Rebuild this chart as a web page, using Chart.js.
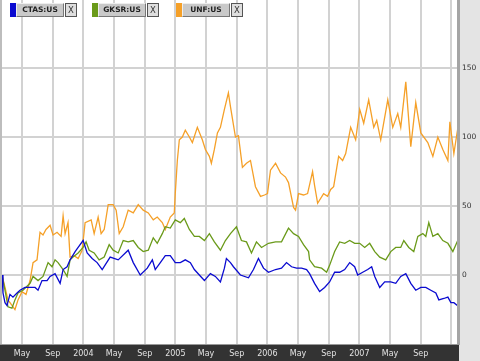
<!DOCTYPE html>
<html>
<head>
<meta charset="utf-8">
<script src="https://cdn.jsdelivr.net/npm/chart.js@4/dist/chart.umd.min.js"></script>
<style>
  html, body { margin: 0; padding: 0; background: #fff; }
  #wrap { position: relative; width: 480px; height: 361px; overflow: hidden; }
  #c { position: absolute; left: 0; top: 0; }
  .btn { position: absolute; top: 3px; height: 14px; }
  .sw { position: absolute; left: 0; top: 0; width: 6px; height: 14px; }
  .lb { position: absolute; left: 6px; top: 0; width: 46px; height: 12px; background: #c9c9c9;
        border-top: 1px solid #eeeeee; border-left: 1px solid #eeeeee;
        border-right: 1px solid #777; border-bottom: 1px solid #777;
        font: bold 7.5px "DejaVu Sans", sans-serif; color: #222; text-align: center; line-height: 12px; }
  .xb { position: absolute; left: 55px; top: 0; width: 10px; height: 12px; background: #dedede;
        border: 1px solid #555; font: 8.5px "DejaVu Sans", sans-serif; color: #333; text-align: center; line-height: 13px; }
</style>
</head>
<body>
<div id="wrap">
  <canvas id="c" width="480" height="361"></canvas>
</div>
<script>
// ---- data (months since Jan 2003, percent change) ----
const seriesNames = ["CTAS:US", "GKSR:US", "UNF:US"];
const seriesColors = ["#0a0ad0", "#6a9a1a", "#f5a028"];

const xTickMonths = [4, 8, 12, 16, 20, 24, 28, 32, 36, 40, 44, 48, 52, 56, 60];
const xTickLabels = ["May", "Sep", "2004", "May", "Sep", "2005", "May", "Sep", "2006", "May", "Sep", "2007", "May", "Sep", ""];
const yTickValues = [0, 50, 100, 150];

const ctasMonths = [1.39,1.52,1.78,2.04,2.43,2.82,3.35,3.74,4.39,5.05,5.7,6.09,6.61,7.27,7.66,8.31,8.97,9.36,9.88,10.27,10.93,11.32,11.97,12.5,13.15,13.8,14.46,15.5,16.55,17.85,18.51,19.42,20.34,21.0,21.38,22.04,22.69,23.34,23.99,24.65,25.3,25.96,26.48,27.13,27.79,28.57,29.22,29.88,30.4,30.66,31.19,31.58,32.49,33.54,34.19,34.84,35.5,36.15,37.07,37.85,38.5,39.16,39.81,40.46,41.12,41.51,42.16,42.82,43.47,44.12,44.78,45.43,46.09,46.74,47.39,47.79,48.44,49.09,49.61,50.01,50.66,51.31,52.1,52.75,53.4,54.06,54.71,55.36,56.02,56.67,57.32,57.98,58.37,59.02,59.55,59.94,60.33,60.99];
const ctasValues = [0,-13,-20,-22,-14,-16,-13,-11,-9,-9,-9,-11,-4,-4,-1,1,-6,4,6,11,17,20,25,16,12,9,4,13,11,18,9,0,5,11,4,9,14,14,9,9,11,9,4,0,-4,1,-1,-5,5,12,9,6,0,-2,4,12,5,2,4,5,9,6,5,5,4,1,-6,-12,-9,-5,2,2,4,9,6,0,2,4,6,-1,-9,-5,-5,-6,-1,1,-6,-11,-9,-9,-11,-13,-18,-17,-16,-20,-20,-23];

const gksrMonths = [1.39,1.78,2.17,2.69,3.08,3.48,4.13,5.05,5.44,6.09,6.74,7.4,7.92,8.31,8.7,9.36,9.88,10.27,10.66,11.32,11.97,12.36,12.76,13.41,14.06,14.72,15.37,15.89,16.55,17.2,17.85,18.51,19.16,19.81,20.47,21.12,21.64,22.3,22.69,23.34,23.99,24.65,25.17,25.83,26.48,27.13,27.79,28.44,29.09,29.88,30.53,31.19,31.97,32.62,33.28,33.93,34.58,35.24,36.15,37.07,37.85,38.76,39.42,40.07,40.72,41.38,41.51,42.16,43.08,43.73,44.12,44.78,45.43,46.09,46.74,47.39,48.05,48.7,49.35,50.01,50.66,51.44,52.1,52.75,53.4,53.8,54.45,55.1,55.63,56.28,56.67,57.06,57.59,58.24,58.89,59.55,60.2,60.59,60.99,61.12];
const gksrValues = [0,-11,-23,-24,-18,-13,-11,-6,-1,-4,-1,9,6,11,9,4,-1,11,13,16,20,24,18,16,11,13,22,18,16,25,24,25,20,17,18,27,23,30,35,34,40,38,41,33,28,28,25,30,24,18,25,30,35,25,24,16,24,20,23,24,24,34,30,28,22,17,11,6,5,2,7,17,24,23,25,23,23,20,23,17,13,11,17,20,20,25,20,17,28,30,28,38,28,30,25,23,17,22,27,18];

const unfMonths = [1.39,1.78,2.17,2.69,3.08,3.48,4.0,4.52,5.05,5.44,5.96,6.35,6.74,7.13,7.66,8.05,8.57,9.1,9.36,9.62,10.0,10.27,10.8,11.32,11.84,12.23,13.02,13.41,13.93,14.32,14.72,15.24,15.89,16.28,16.68,17.2,17.85,18.51,19.16,19.81,20.47,21.12,21.64,22.3,22.69,23.34,23.86,23.99,24.26,24.52,24.91,25.3,25.83,26.22,26.87,27.52,27.92,28.44,28.7,29.09,29.49,29.88,30.4,30.92,31.19,31.84,32.23,32.75,33.28,33.8,34.45,35.11,35.63,36.02,36.41,37.07,37.72,38.37,38.76,39.42,39.68,40.07,40.72,41.25,41.9,42.16,42.56,43.34,43.86,44.26,44.65,45.3,45.82,46.22,46.87,47.52,48.05,48.57,49.22,49.88,50.27,50.79,51.71,52.36,53.01,53.4,54.06,54.71,55.36,56.02,56.93,57.59,58.24,58.89,59.55,59.81,60.33,60.86,61.12];
const unfValues = [0,-9,-18,-22,-25,-18,-12,-14,-4,9,11,31,29,33,36,29,31,28,43,30,38,13,14,12,18,38,40,30,42,30,33,51,51,47,30,35,47,45,51,47,45,40,42,38,33,42,45,59,83,98,100,105,100,96,107,98,91,86,81,91,103,107,120,132,122,100,101,78,81,83,64,57,58,59,76,81,74,71,67,49,47,59,58,59,75,65,52,59,57,62,64,86,83,88,107,98,120,110,127,107,112,98,127,107,117,107,140,93,125,103,96,86,100,91,83,111,88,107,92];

const monthsList = [ctasMonths, gksrMonths, unfMonths];
const valuesList = [ctasValues, gksrValues, unfValues];

// ---- legend buttons ----
const btnLefts = [10, 92, 176];
const wrap = document.getElementById('wrap');
seriesNames.forEach((n, i) => {
  const b = document.createElement('div');
  b.className = 'btn';
  b.style.left = btnLefts[i] + 'px';
  b.innerHTML = '<div class="sw" style="background:' + seriesColors[i] + '"></div>' +
                '<div class="lb">' + n + '</div><div class="xb">X</div>';
  wrap.appendChild(b);
});

// ---- chart ----
const frame = {
  id: 'frame',
  beforeDraw(chart) {
    const { ctx, chartArea: a, width, height } = chart;
    ctx.save();
    ctx.fillStyle = '#fff';
    ctx.fillRect(0, 0, width, height);
    ctx.fillStyle = '#e4e4e4';
    ctx.fillRect(a.right, 0, width - a.right, height);
    ctx.fillStyle = '#333333';
    ctx.fillRect(0, a.bottom, a.right, height - a.bottom);
    ctx.restore();
  },
  afterDatasetsDraw(chart) {
    const { ctx, chartArea: a } = chart;
    ctx.save();
    ctx.fillStyle = '#a4a4a4';
    ctx.fillRect(a.right - 2, 0, 3, a.bottom);
    ctx.fillStyle = '#bdbdbd';
    ctx.fillRect(0, 0, 2, a.bottom);
    ctx.fillStyle = '#999';
    ctx.fillRect(0, a.bottom - 1, a.right, 1);
    ctx.restore();
  }
};

const datasets = seriesNames.map((n, i) => {
  const ms = monthsList[i], vs = valuesList[i];
  const len = Math.min(ms.length, vs.length);
  const pts = [];
  for (let k = 0; k < len; k++) pts.push({ x: ms[k], y: vs[k] });
  return {
    label: n, data: pts, borderColor: seriesColors[i], backgroundColor: seriesColors[i],
    borderWidth: 1.3, pointRadius: 0, tension: 0, fill: false
  };
});

new Chart(document.getElementById('c'), {
  type: 'line',
  data: { datasets },
  plugins: [frame],
  options: {
    responsive: false, animation: false,
    layout: { padding: { left: 2, top: 0, right: 0, bottom: 0 } },
    plugins: { legend: { display: false }, tooltip: { enabled: false } },
    scales: {
      x: {
        type: 'linear', min: 1.39, max: 61.0,
        afterBuildTicks(s) { s.ticks = xTickMonths.map(v => ({ value: v })); },
        afterFit(s) { s.height = 16; s.paddingLeft = 0; s.paddingRight = 0; },
        grid: { color: '#d2d2d2', lineWidth: 2, drawTicks: false },
        border: { display: false },
        ticks: {
          autoSkip: false, maxRotation: 0, padding: 4, color: '#e2e2e2',
          font: { family: 'DejaVu Sans', size: 8 },
          callback(v, idx) { return xTickLabels[idx]; }
        }
      },
      y: {
        position: 'right', min: -50.7, max: 199.3,
        afterBuildTicks(s) { s.ticks = yTickValues.map(v => ({ value: v })); },
        afterFit(s) { s.width = 21; s.paddingTop = 0; s.paddingBottom = 0; },
        grid: { color: '#d2d2d2', lineWidth: 2, drawTicks: false },
        border: { display: false },
        ticks: {
          padding: 3, color: '#333', font: { family: 'DejaVu Sans', size: 7.5 },
          callback(v) { return String(v); }
        }
      }
    }
  }
});
</script>
</body>
</html>
